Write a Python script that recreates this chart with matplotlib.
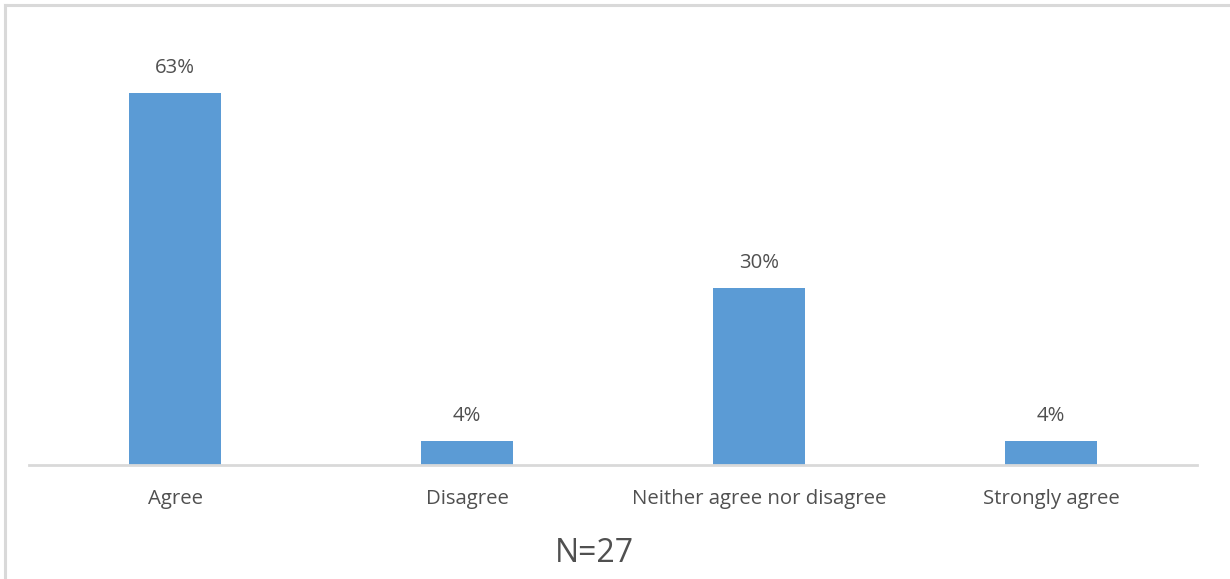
import matplotlib
matplotlib.use("Agg")
import matplotlib.pyplot as plt
from matplotlib.lines import Line2D

categories = ["Agree", "Disagree", "Neither agree nor disagree", "Strongly agree"]
percent = [63, 4, 30, 4]
sample_note = "N=27"

plt.rcParams["font.family"] = ["Open Sans", "DejaVu Sans"]
TEXT = "#505050"
GRID = "#D9D9D9"
BAR = "#5B9BD5"

W, H = 1230, 579
fig = plt.figure(figsize=(W / 100, H / 100), dpi=100)

# light frame along the top and left edges
fy = 1 - 5 / H
fx = 5 / W
fig.lines.append(Line2D([fx, 1.0], [fy, fy], transform=fig.transFigure,
                        color=GRID, linewidth=2.2))
fig.lines.append(Line2D([fx, fx], [0.0, fy], transform=fig.transFigure,
                        color=GRID, linewidth=2.2))

left, right, base, top = 29, 1197, 465, 30
ax = fig.add_axes([left / W, (H - base) / H, (right - left) / W, (base - top) / H])

x = range(len(categories))
ax.bar(x, percent, width=0.315, color=BAR, zorder=2)
ax.set_xlim(-0.5, len(categories) - 0.5)
ax.set_ylim(0, 435 / (372 / 63))

for xi, v in zip(x, percent):
    ax.annotate(f"{v}%", (xi, v), xytext=(0, 25), textcoords="offset pixels",
                ha="center", va="center", fontsize=14.7, color=TEXT)

ax.set_xticks(list(x))
ax.set_xticklabels(categories, fontsize=14.7, color=TEXT)
ax.tick_params(axis="x", length=0, pad=17)
ax.set_yticks([])
for s in ("top", "right", "left"):
    ax.spines[s].set_visible(False)
ax.spines["bottom"].set_color(GRID)
ax.spines["bottom"].set_linewidth(2)

fig.text(594 / W, 1 - 553 / H, sample_note, ha="center", va="center",
         fontsize=23, color=TEXT)

fig.savefig("out.png", dpi=100, facecolor="white")
